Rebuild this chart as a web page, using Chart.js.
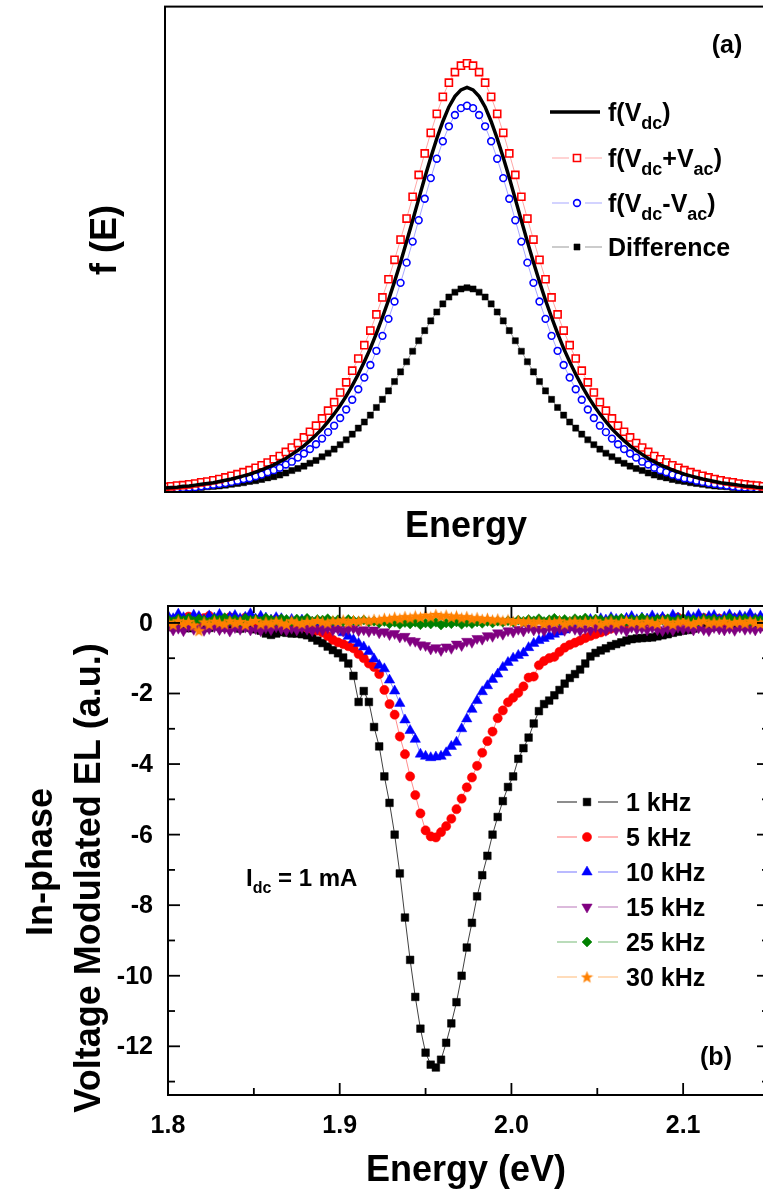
<!DOCTYPE html>
<html>
<head>
<meta charset="utf-8">
<script src="https://cdn.jsdelivr.net/npm/chart.js@4.4.0/dist/chart.umd.min.js"></script>
<style>
  html, body { margin: 0; padding: 0; background: #fff; width: 763px; height: 1193px; overflow: hidden; }
  canvas { position: absolute; left: 0; }
  #chartA { top: 0; }
  #chartB { top: 560px; }
</style>
</head>
<body>
<canvas id="chartA" width="800" height="560"></canvas>
<canvas id="chartB" width="800" height="633"></canvas>
<script>
const FONT = '"Liberation Sans", Arial, sans-serif';

// ---- panel (a): model curves, arbitrary energy units ----
const topEnergy = [0,1,2,3,4,5,6,7,8,9,10,11,12,13,14,15,16,17,18,19,20,21,22,23,24,25,26,27,28,29,30,31,32,33,34,35,36,37,38,39,40,41,42,43,44,45,46,47,48,49,50,51,52,53,54,55,56,57,58,59,60,61,62,63,64,65,66,67,68,69,70,71,72,73,74,75,76,77,78,79,80,81,82,83,84,85,86,87,88,89,90,91,92,93,94,95,96,97,98,99,100];
const fDc = [0.010,0.011,0.012,0.014,0.015,0.017,0.019,0.021,0.023,0.026,0.029,0.032,0.036,0.040,0.044,0.049,0.055,0.061,0.067,0.075,0.083,0.093,0.103,0.114,0.127,0.141,0.156,0.174,0.193,0.214,0.237,0.263,0.291,0.322,0.355,0.392,0.432,0.474,0.520,0.568,0.619,0.671,0.724,0.777,0.827,0.874,0.916,0.952,0.978,0.994,1.000,0.994,0.978,0.952,0.916,0.874,0.827,0.777,0.724,0.671,0.619,0.568,0.520,0.474,0.432,0.392,0.355,0.322,0.291,0.263,0.237,0.214,0.193,0.174,0.156,0.141,0.127,0.114,0.103,0.093,0.083,0.075,0.067,0.061,0.055,0.049,0.044,0.040,0.036,0.032,0.029,0.026,0.023,0.021,0.019,0.017,0.015,0.014,0.012,0.011,0.010];
const fPlus = [0.013,0.014,0.016,0.017,0.019,0.021,0.024,0.026,0.029,0.032,0.036,0.040,0.044,0.049,0.054,0.060,0.066,0.073,0.081,0.089,0.099,0.110,0.121,0.135,0.149,0.164,0.182,0.201,0.222,0.246,0.271,0.300,0.330,0.363,0.399,0.439,0.481,0.526,0.574,0.624,0.676,0.730,0.784,0.837,0.888,0.935,0.977,1.012,1.038,1.054,1.060,1.054,1.038,1.012,0.977,0.935,0.888,0.837,0.784,0.730,0.676,0.624,0.574,0.526,0.481,0.439,0.399,0.363,0.330,0.300,0.271,0.246,0.222,0.201,0.182,0.164,0.149,0.135,0.121,0.110,0.099,0.089,0.081,0.073,0.066,0.060,0.054,0.049,0.044,0.040,0.036,0.032,0.029,0.026,0.024,0.021,0.019,0.017,0.016,0.014,0.013];
const fMinus = [0.007,0.008,0.009,0.010,0.011,0.012,0.014,0.016,0.018,0.020,0.022,0.025,0.028,0.032,0.034,0.039,0.043,0.049,0.054,0.060,0.068,0.075,0.085,0.095,0.106,0.118,0.132,0.148,0.164,0.183,0.204,0.228,0.254,0.283,0.314,0.349,0.386,0.428,0.471,0.517,0.567,0.619,0.672,0.725,0.776,0.824,0.867,0.904,0.932,0.949,0.955,0.949,0.932,0.904,0.867,0.824,0.776,0.725,0.672,0.619,0.567,0.517,0.471,0.428,0.386,0.349,0.314,0.283,0.254,0.228,0.204,0.183,0.164,0.148,0.132,0.118,0.106,0.095,0.085,0.075,0.068,0.060,0.054,0.049,0.043,0.039,0.034,0.032,0.028,0.025,0.022,0.020,0.018,0.016,0.014,0.012,0.011,0.010,0.009,0.008,0.007];
const fDiff = [0.006,0.007,0.008,0.008,0.009,0.010,0.011,0.013,0.014,0.015,0.017,0.019,0.021,0.023,0.026,0.028,0.031,0.035,0.038,0.042,0.047,0.053,0.058,0.064,0.071,0.078,0.087,0.096,0.106,0.117,0.129,0.143,0.158,0.173,0.190,0.209,0.229,0.250,0.273,0.297,0.322,0.348,0.374,0.399,0.423,0.445,0.465,0.482,0.494,0.502,0.505,0.502,0.494,0.482,0.465,0.445,0.423,0.399,0.374,0.348,0.322,0.297,0.273,0.250,0.229,0.209,0.190,0.173,0.158,0.143,0.129,0.117,0.106,0.096,0.087,0.078,0.071,0.064,0.058,0.053,0.047,0.042,0.038,0.035,0.031,0.028,0.026,0.023,0.021,0.019,0.017,0.015,0.014,0.013,0.011,0.010,0.009,0.008,0.008,0.007,0.006];

// ---- panel (b): measured in-phase signal vs energy (eV) ----
const energyEV = [1.800,1.803,1.806,1.809,1.812,1.815,1.818,1.821,1.824,1.827,1.830,1.833,1.836,1.839,1.842,1.845,1.848,1.851,1.854,1.857,1.860,1.863,1.866,1.869,1.872,1.875,1.878,1.881,1.884,1.887,1.890,1.893,1.896,1.899,1.902,1.905,1.908,1.911,1.914,1.917,1.920,1.923,1.926,1.929,1.932,1.935,1.938,1.941,1.944,1.947,1.950,1.953,1.956,1.959,1.962,1.965,1.968,1.971,1.974,1.977,1.980,1.983,1.986,1.989,1.992,1.995,1.998,2.001,2.004,2.007,2.010,2.013,2.016,2.019,2.022,2.025,2.028,2.031,2.034,2.037,2.040,2.043,2.046,2.049,2.052,2.055,2.058,2.061,2.064,2.067,2.070,2.073,2.076,2.079,2.082,2.085,2.088,2.091,2.094,2.097,2.100,2.103,2.106,2.109,2.112,2.115,2.118,2.121,2.124,2.127,2.130,2.133,2.136,2.139,2.142,2.145,2.148];
const el1k = [-0.08,-0.12,-0.05,-0.10,-0.15,-0.07,-0.11,-0.09,-0.14,-0.06,-0.10,-0.13,-0.08,-0.12,-0.16,-0.10,-0.14,-0.18,-0.22,-0.30,-0.34,-0.30,-0.26,-0.28,-0.30,-0.30,-0.32,-0.35,-0.42,-0.50,-0.57,-0.67,-0.77,-0.86,-0.98,-1.15,-1.50,-2.24,-1.93,-2.24,-2.95,-3.50,-4.35,-5.10,-6.00,-7.10,-8.35,-9.55,-10.60,-11.50,-12.18,-12.52,-12.60,-12.38,-11.90,-11.35,-10.75,-10.00,-9.20,-8.50,-7.75,-7.15,-6.60,-6.00,-5.50,-5.05,-4.65,-4.35,-3.85,-3.55,-3.25,-2.85,-2.50,-2.30,-2.20,-2.05,-1.90,-1.72,-1.56,-1.45,-1.32,-1.15,-0.95,-0.85,-0.78,-0.72,-0.65,-0.60,-0.55,-0.50,-0.46,-0.44,-0.43,-0.42,-0.41,-0.38,-0.35,-0.32,-0.28,-0.25,-0.22,-0.20,-0.16,-0.12,-0.10,-0.13,-0.08,-0.11,-0.06,-0.10,-0.12,-0.07,-0.09,-0.05,-0.10,-0.08,-0.11];
const el5k = [0.12,0.05,0.15,0.08,0.18,0.10,0.06,0.14,0.20,0.09,0.13,0.04,0.16,0.11,0.07,0.15,0.10,0.05,0.12,0.08,0.03,0.10,0.02,-0.02,-0.04,-0.06,-0.10,-0.14,-0.18,-0.22,-0.27,-0.37,-0.48,-0.55,-0.60,-0.66,-0.72,-0.88,-1.00,-1.15,-1.25,-1.45,-1.90,-2.30,-2.60,-3.22,-3.72,-4.35,-4.88,-5.40,-5.88,-6.05,-6.08,-5.93,-5.76,-5.55,-5.28,-4.98,-4.66,-4.38,-4.05,-3.68,-3.35,-3.08,-2.70,-2.48,-2.25,-2.12,-1.98,-1.80,-1.55,-1.52,-1.20,-1.08,-1.00,-0.96,-0.82,-0.70,-0.62,-0.56,-0.50,-0.43,-0.37,-0.32,-0.27,-0.22,-0.16,-0.10,-0.08,-0.05,-0.02,0.02,0.05,0.03,0.08,0.08,0.12,0.05,0.10,0.15,0.07,0.11,0.03,0.09,0.14,0.06,0.10,0.12,0.04,0.08,0.13,0.07,0.10,0.05,0.11,0.09,0.06];
const el10k = [0.20,0.12,0.25,0.15,0.10,0.22,0.18,0.08,0.20,0.14,0.24,0.10,0.17,0.21,0.12,0.16,0.26,0.11,0.19,0.14,0.08,0.15,0.12,0.06,0.10,0.05,0.08,0.03,0.02,0.00,-0.02,-0.06,-0.10,-0.17,-0.28,-0.38,-0.48,-0.58,-0.68,-0.81,-1.02,-1.20,-1.30,-1.62,-1.93,-2.28,-2.75,-3.05,-3.30,-3.72,-3.78,-3.82,-3.80,-3.78,-3.68,-3.50,-3.38,-3.00,-2.72,-2.45,-2.20,-1.95,-1.78,-1.60,-1.45,-1.26,-1.12,-1.00,-0.92,-0.85,-0.70,-0.58,-0.50,-0.44,-0.38,-0.32,-0.26,-0.20,-0.13,-0.06,0.02,0.06,0.10,0.05,0.12,0.08,0.15,0.10,0.06,0.13,0.18,0.09,0.14,0.11,0.20,0.12,0.16,0.08,0.22,0.14,0.10,0.19,0.15,0.24,0.12,0.18,0.21,0.10,0.17,0.23,0.13,0.20,0.16,0.25,0.12,0.19,0.22];
const el15k = [-0.12,-0.20,-0.15,-0.22,-0.10,-0.18,-0.14,-0.21,-0.16,-0.11,-0.19,-0.15,-0.23,-0.13,-0.18,-0.12,-0.20,-0.16,-0.22,-0.14,-0.19,-0.11,-0.17,-0.21,-0.15,-0.20,-0.13,-0.18,-0.22,-0.16,-0.20,-0.14,-0.21,-0.17,-0.23,-0.18,-0.15,-0.22,-0.19,-0.24,-0.20,-0.28,-0.25,-0.33,-0.30,-0.40,-0.38,-0.50,-0.52,-0.62,-0.64,-0.74,-0.70,-0.78,-0.68,-0.72,-0.60,-0.64,-0.52,-0.55,-0.44,-0.46,-0.36,-0.38,-0.28,-0.32,-0.22,-0.26,-0.18,-0.23,-0.14,-0.20,-0.17,-0.22,-0.12,-0.19,-0.15,-0.21,-0.13,-0.18,-0.22,-0.16,-0.20,-0.11,-0.17,-0.21,-0.14,-0.19,-0.16,-0.23,-0.12,-0.18,-0.15,-0.20,-0.13,-0.19,-0.22,-0.16,-0.21,-0.12,-0.18,-0.15,-0.20,-0.14,-0.19,-0.22,-0.13,-0.17,-0.20,-0.15,-0.21,-0.12,-0.18,-0.16,-0.20,-0.14,-0.19];
const el25k = [0.10,0.04,0.12,0.07,0.14,0.05,0.11,0.08,0.03,0.12,0.09,0.15,0.06,0.10,0.04,0.13,0.08,0.11,0.05,0.14,0.09,0.06,0.12,0.10,0.04,0.11,0.07,0.13,0.05,0.10,0.08,0.12,0.06,0.09,0.04,0.10,0.07,0.05,0.08,0.03,0.05,0.00,0.04,-0.02,0.02,-0.04,0.01,-0.03,0.02,-0.05,0.00,-0.03,0.02,-0.06,0.00,-0.02,0.03,-0.04,0.01,-0.02,0.03,-0.01,0.04,0.00,0.05,0.02,0.06,0.03,0.08,0.05,0.10,0.06,0.12,0.04,0.09,0.13,0.07,0.10,0.05,0.12,0.08,0.14,0.06,0.11,0.09,0.04,0.12,0.08,0.13,0.05,0.10,0.07,0.14,0.09,0.06,0.11,0.08,0.12,0.04,0.10,0.13,0.07,0.09,0.05,0.12,0.08,0.11,0.06,0.10,0.14,0.07,0.09,0.12,0.05,0.10,0.08,0.11];
const el30k = [0.02,-0.05,0.06,-0.02,0.04,-0.06,-0.22,0.03,-0.04,0.05,0.00,-0.03,0.06,-0.01,0.04,-0.05,0.02,0.07,-0.03,0.03,-0.02,0.05,0.00,-0.04,0.06,0.01,-0.02,0.04,0.02,0.07,0.03,0.00,0.06,0.04,0.08,0.02,0.07,0.05,0.09,0.06,0.10,0.08,0.13,0.11,0.16,0.12,0.18,0.14,0.20,0.16,0.22,0.17,0.24,0.18,0.22,0.16,0.20,0.14,0.18,0.12,0.15,0.10,0.13,0.08,0.11,0.06,0.09,0.04,0.07,0.02,0.06,0.00,0.05,-0.02,0.04,0.01,0.06,-0.03,0.03,0.05,-0.01,0.04,0.00,0.06,-0.04,0.02,0.05,-0.02,0.03,0.07,0.00,0.04,-0.03,0.05,0.01,-0.02,0.06,0.02,-0.04,0.03,0.05,0.00,-0.02,0.04,0.06,-0.01,0.03,0.00,0.05,-0.03,0.02,0.04,-0.01,0.06,0.01,-0.02,0.03];

const xMajorB = [1.8, 1.9, 2.0, 2.1];
const xMinorB = [1.85, 1.95, 2.05, 2.15];
const yMajorB = [0, -2, -4, -6, -8, -10, -12];
const yMinorB = [-1, -3, -5, -7, -9, -11, -13];

function pts(xs, ys) { return ys.map((v, i) => ({ x: xs[i], y: v })); }

function starImage(size, color) {
  const c = document.createElement('canvas');
  c.width = c.height = size;
  const g = c.getContext('2d');
  g.fillStyle = color;
  g.beginPath();
  for (let k = 0; k < 10; k++) {
    const r = k % 2 ? size * 0.21 : size / 2;
    const a = -Math.PI / 2 + k * Math.PI / 5;
    g.lineTo(size / 2 + r * Math.cos(a), size / 2 + r * Math.sin(a) + 0.5);
  }
  g.closePath();
  g.fill();
  return c;
}

// text with subscripts: parts are strings, or [string] for a subscript
function richText(ctx, parts, x, y, size, sub) {
  let cx = x;
  parts.forEach(p => {
    const isSub = Array.isArray(p);
    const t = isSub ? p[0] : p;
    ctx.font = 'bold ' + (isSub ? sub : size) + 'px ' + FONT;
    ctx.fillText(t, cx, isSub ? y + size * 0.3 : y);
    cx += ctx.measureText(t).width;
  });
}

function line(ctx, x1, y1, x2, y2) {
  ctx.beginPath(); ctx.moveTo(x1, y1); ctx.lineTo(x2, y2); ctx.stroke();
}

function legendMarker(ctx, ds, x, y) {
  ctx.save();
  ctx.fillStyle = ds.pointBackgroundColor;
  ctx.strokeStyle = ds.pointBorderColor;
  ctx.lineWidth = ds.pointBorderWidth;
  Chart.helpers.drawPoint(ctx, {
    pointStyle: ds.pointStyle, rotation: ds.pointRotation || 0,
    radius: ds.pointRadius, borderWidth: ds.pointBorderWidth
  }, x, y);
  ctx.restore();
}

// ---------- panel (a) ----------
const panelA = {
  id: 'panelA',
  afterDraw(chart) {
    const { ctx, chartArea: a } = chart;
    const ds = chart.data.datasets;
    ctx.save();
    ctx.strokeStyle = '#000';
    ctx.lineWidth = 2;
    ctx.strokeRect(a.left, a.top, a.right - a.left, a.bottom - a.top);

    ctx.fillStyle = '#000';
    ctx.textBaseline = 'middle';
    ctx.textAlign = 'center';
    ctx.font = 'bold 36px ' + FONT;
    ctx.fillText('Energy', 466, 527);
    ctx.save();
    ctx.translate(106, 240);
    ctx.rotate(-Math.PI / 2);
    ctx.fillText('f (E)', 0, 0);
    ctx.restore();
    ctx.font = 'bold 25px ' + FONT;
    ctx.fillText('(a)', 727, 46);

    // legend
    ctx.textAlign = 'left';
    ctx.textBaseline = 'alphabetic';
    const rows = [
      { y: 112, parts: ['f(V', ['dc'], ')'], i: 0 },
      { y: 158, parts: ['f(V', ['dc'], '+V', ['ac'], ')'], i: 1 },
      { y: 203, parts: ['f(V', ['dc'], '-V', ['ac'], ')'], i: 2 },
      { y: 247, parts: ['Difference'], i: 3 }
    ];
    rows.forEach(r => {
      const d = ds[r.i];
      if (r.i === 0) {
        ctx.strokeStyle = d.borderColor;
        ctx.lineWidth = d.borderWidth;
        line(ctx, 550, r.y, 600, r.y);
      } else {
        ctx.strokeStyle = d.borderColor;
        ctx.lineWidth = 1;
        line(ctx, 552, r.y, 569, r.y);
        line(ctx, 585, r.y, 602, r.y);
        legendMarker(ctx, d, 577, r.y);
      }
      ctx.fillStyle = '#000';
      richText(ctx, r.parts, 608, r.y + 9, 25, 18);
    });
    ctx.restore();
  }
};

new Chart(document.getElementById('chartA'), {
  type: 'line',
  data: {
    datasets: [
      { label: 'f(Vdc)', data: pts(topEnergy, fDc), borderColor: '#000', borderWidth: 3.5,
        pointRadius: 0, pointStyle: false },
      { label: 'f(Vdc+Vac)', data: pts(topEnergy, fPlus), borderColor: 'rgba(255,0,0,0.35)', borderWidth: 1,
        pointStyle: 'rect', pointRadius: 5, pointBorderWidth: 1.6,
        pointBorderColor: '#ff0000', pointBackgroundColor: '#fff' },
      { label: 'f(Vdc-Vac)', data: pts(topEnergy, fMinus), borderColor: 'rgba(0,0,255,0.35)', borderWidth: 1,
        pointStyle: 'circle', pointRadius: 3.4, pointBorderWidth: 1.6,
        pointBorderColor: '#0000ff', pointBackgroundColor: '#fff' },
      { label: 'Difference', data: pts(topEnergy, fDiff), borderColor: 'rgba(0,0,0,0.4)', borderWidth: 1,
        pointStyle: 'rect', pointRadius: 4.3, pointBorderWidth: 0.5,
        pointBorderColor: '#000', pointBackgroundColor: '#000' }
    ]
  },
  options: {
    responsive: false,
    animation: false,
    devicePixelRatio: 1,
    layout: { padding: { left: 165, right: 31, top: 3, bottom: 68 } },
    plugins: { legend: { display: false }, tooltip: { enabled: false } },
    scales: {
      x: { type: 'linear', min: 0, max: 100, display: false },
      y: { min: 0, max: 1.2, display: false }
    }
  },
  plugins: [panelA]
});

// ---------- panel (b) ----------
const panelB = {
  id: 'panelB',
  afterDraw(chart) {
    const { ctx, chartArea: a, scales: { x, y } } = chart;
    const ds = chart.data.datasets;
    ctx.save();
    ctx.strokeStyle = '#000';
    ctx.lineWidth = 2;
    ctx.strokeRect(a.left, a.top, a.right - a.left, a.bottom - a.top);
    ctx.lineWidth = 1.8;
    xMajorB.forEach(v => {
      const p = x.getPixelForValue(v);
      line(ctx, p, a.bottom, p, a.bottom - 12);
      line(ctx, p, a.top, p, a.top + 12);
    });
    xMinorB.forEach(v => {
      const p = x.getPixelForValue(v);
      line(ctx, p, a.bottom, p, a.bottom - 7);
      line(ctx, p, a.top, p, a.top + 7);
    });
    yMajorB.forEach(v => {
      const p = y.getPixelForValue(v);
      line(ctx, a.left, p, a.left + 12, p);
      line(ctx, a.right, p, a.right - 12, p);
    });
    yMinorB.forEach(v => {
      const p = y.getPixelForValue(v);
      line(ctx, a.left, p, a.left + 7, p);
      line(ctx, a.right, p, a.right - 7, p);
    });

    ctx.fillStyle = '#000';
    ctx.font = 'bold 25px ' + FONT;
    ctx.textAlign = 'center';
    ctx.textBaseline = 'middle';
    xMajorB.forEach(v => ctx.fillText(v.toFixed(1), x.getPixelForValue(v), 566));
    ctx.textAlign = 'right';
    yMajorB.forEach(v => ctx.fillText(String(v), 153, y.getPixelForValue(v) + 1));

    ctx.textAlign = 'center';
    ctx.font = 'bold 36px ' + FONT;
    ctx.fillText('Energy (eV)', 466, 611);
    ctx.save();
    ctx.translate(42, 302);
    ctx.rotate(-Math.PI / 2);
    ctx.fillText('In-phase', 0, 0);
    ctx.restore();
    ctx.save();
    ctx.translate(90, 318);
    ctx.rotate(-Math.PI / 2);
    ctx.fillText('Voltage Modulated EL (a.u.)', 0, 0);
    ctx.restore();
    ctx.font = 'bold 25px ' + FONT;
    ctx.fillText('(b)', 716, 498);

    ctx.textAlign = 'left';
    ctx.textBaseline = 'alphabetic';
    richText(ctx, ['I', ['dc'], ' = 1 mA'], 246, 326, 24, 16);

    // legend
    const names = ['1 kHz', '5 kHz', '10 kHz', '15 kHz', '25 kHz', '30 kHz'];
    names.forEach((n, i) => {
      const ry = 242 + i * 35;
      const d = ds[i];
      ctx.strokeStyle = d.borderColor;
      ctx.lineWidth = 1.2;
      line(ctx, 557, ry, 577, ry);
      line(ctx, 598, ry, 618, ry);
      legendMarker(ctx, d, 587, ry);
      ctx.fillStyle = '#000';
      ctx.font = 'bold 25px ' + FONT;
      ctx.fillText(n, 626, ry + 9);
    });
    ctx.restore();
  }
};

const star = starImage(13, '#ff8000');

new Chart(document.getElementById('chartB'), {
  type: 'line',
  data: {
    datasets: [
      { label: '1 kHz', data: pts(energyEV, el1k), order: 6, borderColor: 'rgba(0,0,0,0.75)', borderWidth: 1,
        pointStyle: 'rect', pointRadius: 5.4, pointBorderWidth: 0.5,
        pointBackgroundColor: '#000', pointBorderColor: '#000' },
      { label: '5 kHz', data: pts(energyEV, el5k), order: 5, borderColor: 'rgba(255,0,0,0.45)', borderWidth: 1,
        pointStyle: 'circle', pointRadius: 4.6, pointBorderWidth: 0.5,
        pointBackgroundColor: '#ff0000', pointBorderColor: '#ff0000' },
      { label: '10 kHz', data: pts(energyEV, el10k), order: 4, borderColor: 'rgba(0,0,255,0.45)', borderWidth: 1,
        pointStyle: 'triangle', pointRadius: 6, pointBorderWidth: 0.5,
        pointBackgroundColor: '#0000ff', pointBorderColor: '#0000ff' },
      { label: '15 kHz', data: pts(energyEV, el15k), order: 3, borderColor: 'rgba(128,0,128,0.45)', borderWidth: 1,
        pointStyle: 'triangle', pointRotation: 180, pointRadius: 6, pointBorderWidth: 0.5,
        pointBackgroundColor: '#800080', pointBorderColor: '#800080' },
      { label: '25 kHz', data: pts(energyEV, el25k), order: 2, borderColor: 'rgba(0,128,0,0.45)', borderWidth: 1,
        pointStyle: 'rectRot', pointRadius: 5, pointBorderWidth: 0.5,
        pointBackgroundColor: '#008000', pointBorderColor: '#008000' },
      { label: '30 kHz', data: pts(energyEV, el30k), order: 1, borderColor: 'rgba(255,128,0,0.45)', borderWidth: 1,
        pointStyle: star, pointRadius: 6, pointBorderWidth: 0,
        pointBackgroundColor: '#ff8000', pointBorderColor: '#ff8000' }
    ]
  },
  options: {
    responsive: false,
    animation: false,
    devicePixelRatio: 1,
    layout: { padding: { left: 168, right: 31, top: 46, bottom: 98 } },
    plugins: { legend: { display: false }, tooltip: { enabled: false } },
    scales: {
      x: { type: 'linear', min: 1.8, max: 2.15, display: false },
      y: { min: -13.38, max: 0.48, display: false }
    }
  },
  plugins: [panelB]
});
</script>
</body>
</html>
